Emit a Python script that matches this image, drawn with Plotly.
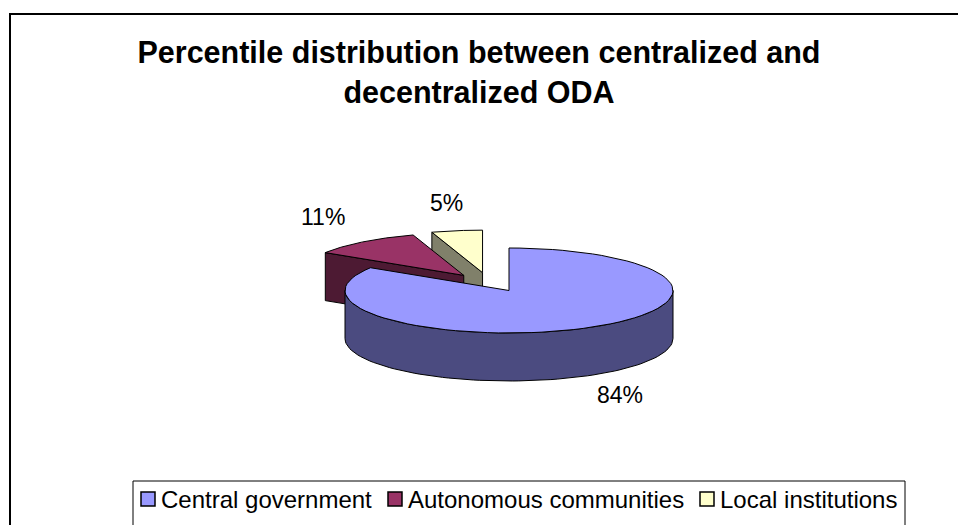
import numpy as np
import plotly.graph_objects as go

# ---- data ----
categories = ["Central government", "Autonomous communities", "Local institutions"]
shares = [84, 11, 5]
pct_labels = ["84%", "11%", "5%"]
title_text = "Percentile distribution between centralized and<br>decentralized ODA"

# ---- style ----
top_colors = ["#9999FF", "#993366", "#FFFFCC"]
side_colors = ["#4B4B80", "#4D1A33", "#80806A"]
W, H = 958, 525
CX, CY = 509, 290.5      # pie centre (pixel space)
RX, RY = 164, 42.5       # ellipse radii of top face
DEPTH = 48               # thickness of the 3-D pie
EXPLODE = [0.0, 0.45, 0.45]
EXPLODE_TILT = [0, 0, -12]
FONT = "Liberation Sans, Arial, sans-serif"

# legend layout (pixel space)
LEG_BOX = (133, 481, 905, 530)
LEG_SQ_X = [141, 388, 700]
LEG_SQ = 14
LEG_Y = 499
LEG_FONT = 24


def ell(t, c, r=1.0, dy=0.0):
    a = np.radians(t)
    return c[0] + r * RX * np.sin(a), c[1] - r * RY * np.cos(a) + dy


def arc(t0, t1, c, dy=0.0, n=80):
    ts = np.linspace(t0, t1, n)
    xs, ys = ell(ts, c, dy=dy)
    return list(xs), list(ys)


total = float(sum(shares))
bounds = np.concatenate([[0], np.cumsum(shares) / total * 360.0])

slices = []
for i in range(len(shares)):
    a0, a1 = bounds[i], bounds[i + 1]
    mid = (a0 + a1) / 2 + EXPLODE_TILT[i]
    cx, cy = ell(mid, (CX, CY), r=EXPLODE[i])
    slices.append(dict(a0=a0, a1=a1, mid=(a0 + a1) / 2, c=(cx, cy)))

fig = go.Figure()
line = dict(color="black", width=1)


def poly(xs, ys, color, name):
    fig.add_trace(go.Scatter(x=xs + [xs[0]], y=ys + [ys[0]], mode="lines",
                             fill="toself", fillcolor=color, line=line, name=name,
                             hoverinfo="skip", showlegend=False))


# painter's order: back slices first (yellow, red), then the large slice
for i in [2, 1, 0]:
    s = slices[i]
    c = s["c"]
    a0, a1 = s["a0"], s["a1"]
    if i != 0:
        px, py = ell(a0, c)
        poly([c[0], px, px, c[0]], [c[1], py, py + DEPTH, c[1] + DEPTH], side_colors[i], categories[i])
    w0, w1 = max(a0, 90), min(a1, 270)
    if w1 > w0:
        tx, ty = arc(w0, w1, c)
        bx, by = arc(w1, w0, c, dy=DEPTH)
        poly(tx + bx, ty + by, side_colors[i], categories[i])
    tx, ty = arc(a0, a1, c)
    poly([c[0]] + tx, [c[1]] + ty, top_colors[i], categories[i])

# percentage labels
for i, s in enumerate(slices):
    c = s["c"]
    front = np.cos(np.radians(s["mid"])) < 0
    lx, ly = ell(s["mid"], c, r=1.4, dy=DEPTH if front else 0)
    fig.add_annotation(x=lx, y=ly, text=pct_labels[i], showarrow=False,
                       xanchor="center", yanchor="middle" if front else "bottom",
                       yshift=-4 if front else -4,
                       font=dict(family=FONT, size=23, color="black"))

# legend (box, swatches, names)
fig.add_shape(type="rect", xref="x", yref="y", x0=LEG_BOX[0], y0=LEG_BOX[1],
              x1=LEG_BOX[2], y1=LEG_BOX[3], line=dict(color="black", width=1),
              fillcolor="white", layer="below")
for i, name in enumerate(categories):
    x0 = LEG_SQ_X[i]
    fig.add_shape(type="rect", xref="x", yref="y", x0=x0, x1=x0 + LEG_SQ,
                  y0=LEG_Y - LEG_SQ / 2, y1=LEG_Y + LEG_SQ / 2,
                  line=dict(color="black", width=1.5), fillcolor=top_colors[i])
    fig.add_annotation(x=x0 + LEG_SQ + 4, y=LEG_Y, text=name, showarrow=False,
                       xanchor="left", yanchor="middle",
                       font=dict(family=FONT, size=LEG_FONT, color="black"))

# outer chart border
fig.add_shape(type="rect", xref="x", yref="y", x0=10, y0=14, x1=W + 20, y1=H + 20,
              line=dict(color="black", width=2), fillcolor="rgba(0,0,0,0)")

fig.update_layout(
    width=W, height=H, margin=dict(l=0, r=0, t=0, b=0),
    paper_bgcolor="white", plot_bgcolor="white",
    title=dict(text=title_text, x=0.5, xanchor="center", y=1 - 63 / H, yanchor="top",
               font=dict(family=FONT, size=30.5, color="black", weight="bold")),
    xaxis=dict(range=[0, W], visible=False, fixedrange=True),
    yaxis=dict(range=[H, 0], visible=False, fixedrange=True),
    showlegend=False,
)

fig.write_html("out.html")
